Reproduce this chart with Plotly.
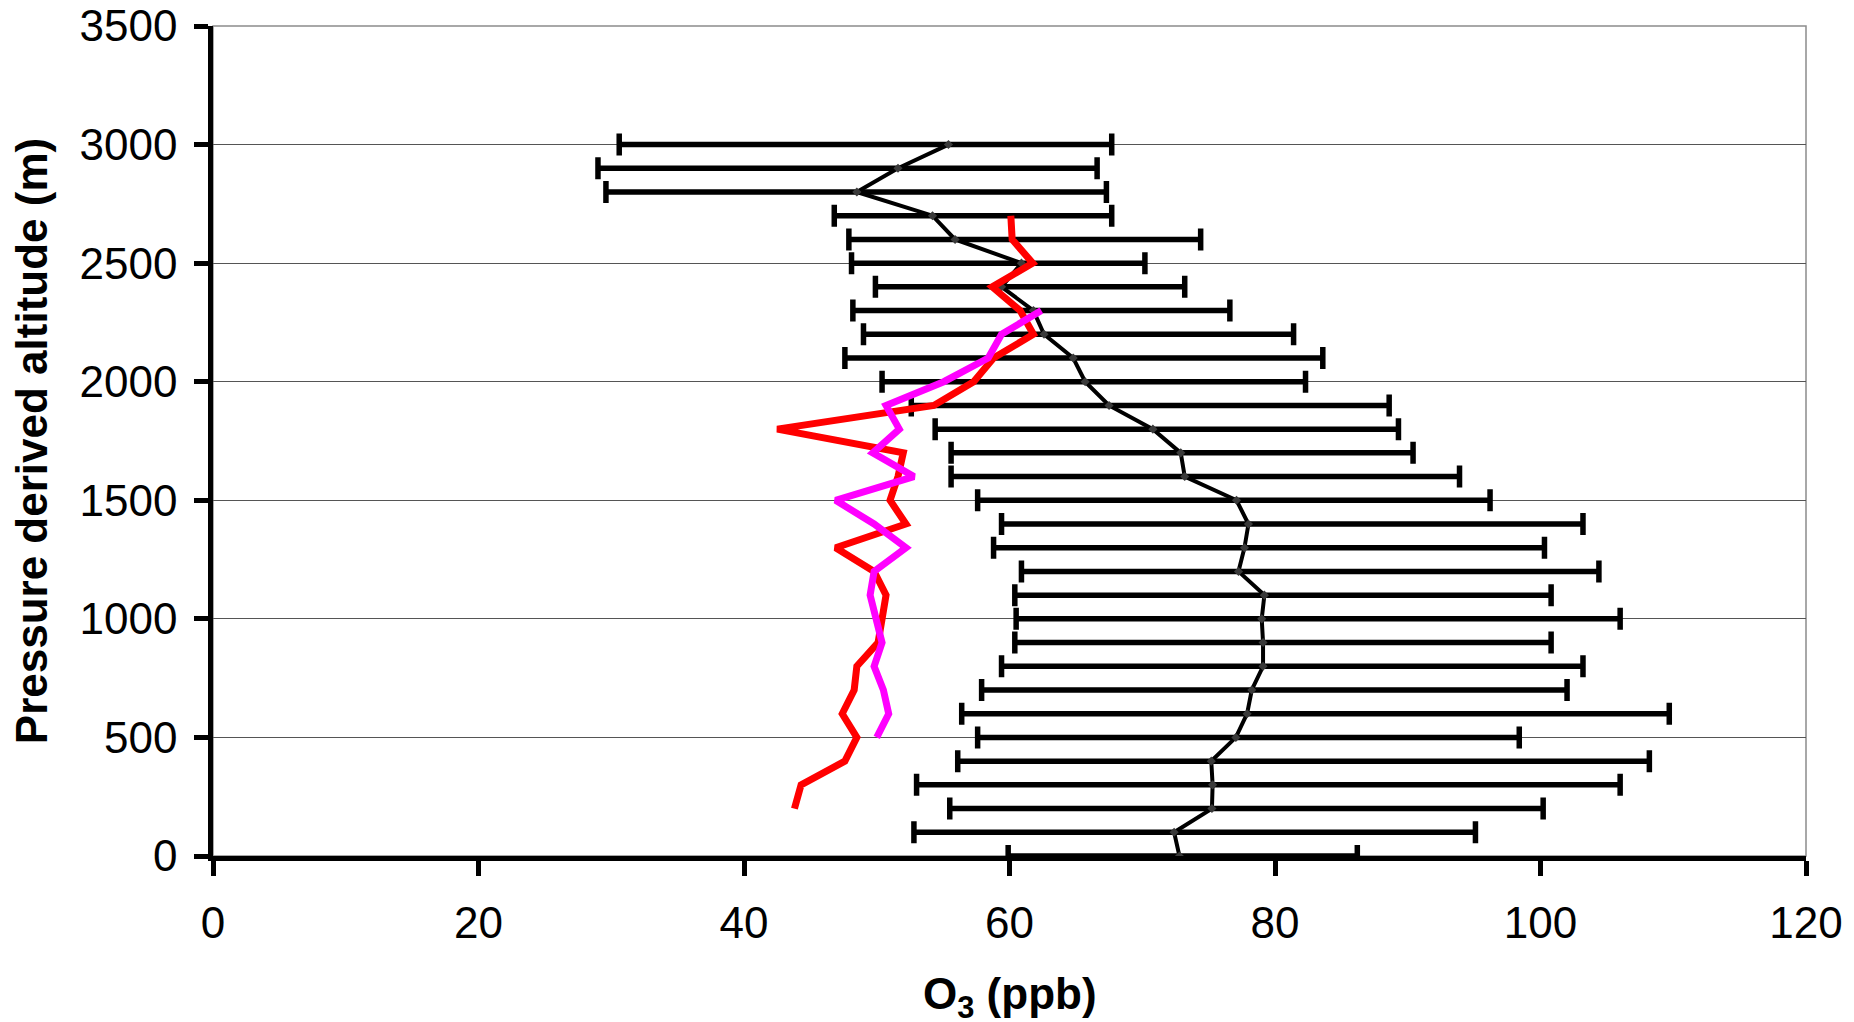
import plotly.graph_objects as go

# altitude profile, all values
alt_m = [0, 100, 200, 300, 400, 500, 600, 700, 800, 900, 1000,
         1100, 1200, 1300, 1400, 1500, 1600, 1700, 1800, 1900, 2000,
         2100, 2200, 2300, 2400, 2500, 2600, 2700, 2800, 2900, 3000]
o3_mean = [72.8, 72.4, 75.25, 75.3, 75.2, 77.05, 77.9, 78.25, 79.1, 79.1, 79.0,
           79.2, 77.25, 77.7, 78.0, 77.1, 73.2, 72.9, 70.8, 67.5, 65.7,
           64.8, 62.6, 61.8, 59.4, 60.9, 55.9, 54.2, 48.5, 51.6, 55.4]
o3_low = [59.9, 52.8, 55.5, 53.0, 56.1, 57.6, 56.4, 57.9, 59.4, 60.4, 60.5,
          60.4, 60.9, 58.8, 59.4, 57.6, 55.6, 55.6, 54.4, 52.6, 50.4,
          47.6, 49.0, 48.2, 49.9, 48.1, 47.9, 46.8, 29.6, 29.0, 30.6]
o3_high = [86.2, 95.1, 100.2, 106.0, 108.2, 98.4, 109.7, 102.0, 103.2, 100.8, 106.0,
           100.8, 104.4, 100.3, 103.2, 96.2, 93.9, 90.4, 89.3, 88.6, 82.3,
           83.6, 81.4, 76.6, 73.2, 70.2, 74.4, 67.7, 67.3, 66.6, 67.7]

red_alt = [200, 300, 400, 500, 600, 700, 800, 900, 1000, 1100, 1200, 1300, 1400,
           1500, 1600, 1700, 1800, 1900, 2000, 2100, 2200, 2300, 2400, 2500, 2600, 2700]
red_o3 = [43.8, 44.3, 47.6, 48.5, 47.4, 48.3, 48.5, 50.1, 50.4, 50.7, 49.8, 46.9, 52.2,
          51.0, 51.6, 52.0, 42.5, 54.3, 57.3, 58.8, 61.8, 60.8, 58.7, 61.75, 60.2, 60.1]

pink_alt = [500, 600, 700, 800, 900, 1000, 1100, 1200, 1300, 1400,
            1500, 1600, 1700, 1800, 1900, 2000, 2100, 2200, 2300]
pink_o3 = [50.0, 50.9, 50.5, 49.8, 50.4, 50.0, 49.5, 49.8, 52.2, 49.8,
           46.9, 52.8, 49.7, 51.7, 50.7, 55.05, 58.4, 59.4, 62.4]

x_ticks = [0, 20, 40, 60, 80, 100, 120]
y_ticks = [0, 500, 1000, 1500, 2000, 2500, 3000, 3500]

font = "Arial, Liberation Sans, sans-serif"
fsize = 44

err_plus = [h - m for h, m in zip(o3_high, o3_mean)]
err_minus = [m - l for m, l in zip(o3_mean, o3_low)]

fig = go.Figure()

fig.add_trace(go.Scatter(
    x=o3_mean, y=alt_m, mode="lines+markers",
    line=dict(color="black", width=4),
    marker=dict(symbol="diamond", size=7, color="#3a3a3a"),
    error_x=dict(type="data", symmetric=False, array=err_plus, arrayminus=err_minus,
                 color="black", thickness=5.5, width=11),
    cliponaxis=False, showlegend=False,
))
fig.add_trace(go.Scatter(
    x=red_o3, y=red_alt, mode="lines",
    line=dict(color="#ff0000", width=7),
    showlegend=False,
))
fig.add_trace(go.Scatter(
    x=pink_o3, y=pink_alt, mode="lines",
    line=dict(color="#ff00ff", width=7),
    showlegend=False,
))

# thin frame on top / right like the original
fig.add_shape(type="rect", xref="paper", yref="paper", x0=0, x1=1, y0=0, y1=1,
              line=dict(color="#8c8c8c", width=1.5), layer="below")

# x title as annotation so it can sit lower than the margin allows
fig.add_annotation(text="<b>O<sub>3</sub> (ppb)</b>", xref="paper", yref="paper",
                   x=0.5, y=0, xanchor="center", yanchor="middle", yshift=-141,
                   showarrow=False, font=dict(size=fsize))

fig.update_layout(
    width=1854, height=1022,
    margin=dict(l=213, r=48, t=26, b=166),
    plot_bgcolor="white", paper_bgcolor="white",
    font=dict(family=font, size=fsize, color="black"),
    showlegend=False,
)
fig.update_xaxes(
    range=[0, 120], tickvals=x_ticks, showgrid=False, zeroline=False,
    showline=True, linecolor="black", linewidth=4.5,
    ticks="outside", ticklen=15, tickwidth=4.5, tickcolor="black",
    tickfont=dict(size=fsize), ticklabelstandoff=9, ticklabeloverflow="allow",
    automargin=False,
)
fig.update_yaxes(
    range=[0, 3500], tickvals=y_ticks, showgrid=True, gridcolor="#555555", gridwidth=1.3,
    zeroline=False, showline=True, linecolor="black", linewidth=4.5,
    ticks="outside", ticklen=14, tickwidth=4.5, tickcolor="black",
    tickfont=dict(size=fsize), ticklabelstandoff=8, ticklabeloverflow="allow",
    automargin=False,
    title=dict(text="<b>Pressure derived altitude (m)</b>", font=dict(size=fsize), standoff=20),
)

# drop the default page margin so the figure fills the window exactly
fig.write_html("out.html", config={"displayModeBar": False},
               post_script="document.body.style.margin = '0px';")
